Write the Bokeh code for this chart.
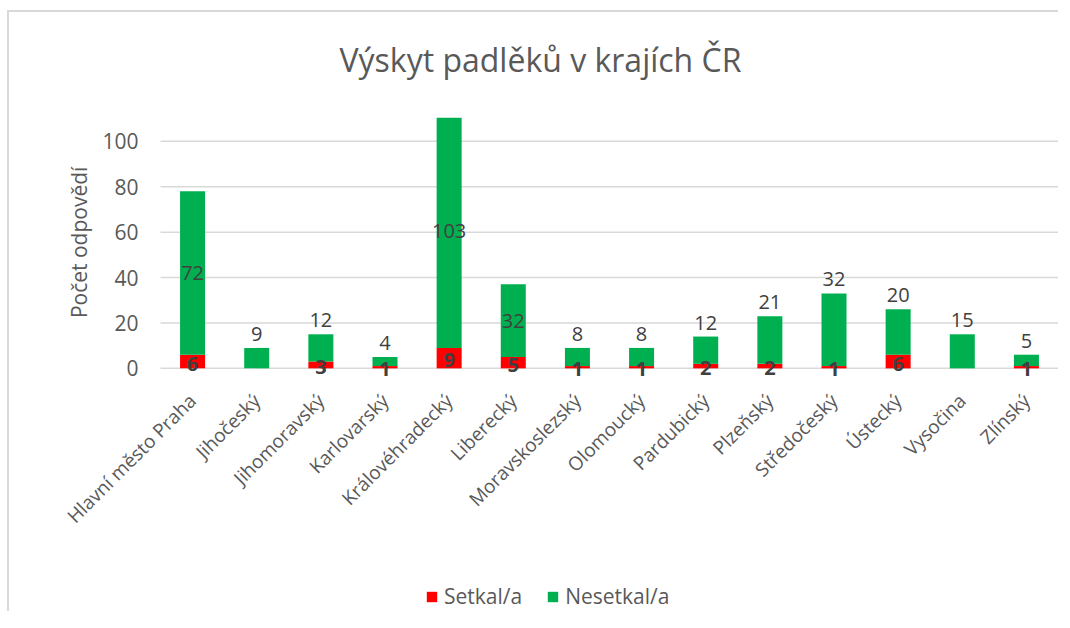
import math
from bokeh.plotting import figure
from bokeh.models import (ColumnDataSource, Range1d, Legend, LegendItem, LabelSet, Label, Title)
from bokeh.core.properties import value
from bokeh.embed import file_html
from bokeh.resources import INLINE

# ---- data ----
regions = ["Hlavní město Praha", "Jihočeský", "Jihomoravský", "Karlovarský",
           "Královéhradecký", "Liberecký", "Moravskoslezský", "Olomoucký",
           "Pardubický", "Plzeňský", "Středočeský", "Ústecký", "Vysočina", "Zlínský"]
setkal = [6, 0, 3, 1, 9, 5, 1, 1, 2, 2, 1, 6, 0, 1]
nesetkal = [72, 9, 12, 4, 103, 32, 8, 8, 12, 21, 32, 20, 15, 5]
series_names = ["Setkal/a", "Nesetkal/a"]
y_ticks = [0, 20, 40, 60, 80, 100]
title_text = "Výskyt padlěků v krajích ČR"
y_title = "Počet odpovědí"
# green labels drawn centred inside the bar (others sit above the bar)
inside_label_regions = ["Hlavní město Praha", "Královéhradecký", "Liberecký"]

TEXT = "#595959"
LBL = "#404040"
RED = "#FF0000"
GREEN = "#00B050"
GRID = "#d9d9d9"
FONT = "Open Sans"

# geometry: the frame holds the plot area plus room for labels and the legend
PX_PER_CAT = 898 / 14
LEFT_PAD_PX = 151
PX_PER_UNIT = 2.27
Y_TOP = 110.5
FRAME_H = 494
Y_BOTTOM = Y_TOP - FRAME_H / PX_PER_UNIT
n_cat = len(regions)
X_START = -0.5 - LEFT_PAD_PX / PX_PER_CAT
X_END = n_cat - 0.5

idx = list(range(n_cat))
src = ColumnDataSource(dict(x=idx, region=regions, setkal=setkal, nesetkal=nesetkal))

p = figure(x_range=Range1d(X_START, X_END), y_range=Range1d(Y_BOTTOM, Y_TOP),
           frame_width=898 + LEFT_PAD_PX, frame_height=FRAME_H,
           min_border_left=0, min_border_right=0, min_border_top=105, min_border_bottom=0,
           output_backend="svg", toolbar_location=None,
           margin=(10, 0, 0, 7),
           styles={"border-left": "2px solid #d9d9d9", "border-top": "2px solid #d9d9d9"})
p.title = None

# spacer between frame and title, then the title itself (further out)
p.add_layout(Title(text=" ", text_font_size="1px", standoff=32), "above")
p.add_layout(Title(text=title_text, text_font=FONT, text_font_size="32px",
                   text_font_style="normal", text_color=TEXT, align="left",
                   offset=179 + LEFT_PAD_PX, standoff=4), "above")

p.xaxis.visible = False
p.yaxis.visible = False
p.xgrid.grid_line_color = None
p.ygrid.grid_line_color = None
p.outline_line_color = None

# horizontal gridlines across the category area
p.segment(x0=[-0.5] * len(y_ticks), x1=[X_END] * len(y_ticks), y0=y_ticks, y1=y_ticks,
          line_color=GRID, line_width=1.5)

rs = p.vbar_stack(["setkal", "nesetkal"], x="x", width=0.39,
                  color=[RED, GREEN], line_color=None, source=src)

# y tick labels and y title
tick_src = ColumnDataSource(dict(x=[-0.5] * len(y_ticks), y=y_ticks, t=[str(v) for v in y_ticks]))
p.add_layout(LabelSet(x="x", y="y", text="t", source=tick_src, text_align="right",
                      text_baseline="middle", text_font=value(FONT), text_font_size=value("21px"),
                      text_color=value(TEXT), x_offset=-22))
p.add_layout(Label(x=-0.5, y=55.5, text=y_title, angle=math.pi / 2, x_offset=-82,
                   text_align="center", text_baseline="middle", text_font=FONT,
                   text_font_size="21px", text_color=TEXT))

# data labels
red_x, red_y, red_t = [], [], []
gin_x, gin_y, gin_t = [], [], []
gab_x, gab_y, gab_t = [], [], []
for i, r, s, n in zip(idx, regions, setkal, nesetkal):
    if s > 0:
        red_x.append(i); red_y.append(s / 2); red_t.append(str(s))
    if r in inside_label_regions:
        gin_x.append(i); gin_y.append(s + n / 2); gin_t.append(str(n))
    else:
        gab_x.append(i); gab_y.append(s + n); gab_t.append(str(n))

red_src = ColumnDataSource(dict(x=red_x, y=red_y, t=red_t))
gin_src = ColumnDataSource(dict(x=gin_x, y=gin_y, t=gin_t))
gab_src = ColumnDataSource(dict(x=gab_x, y=gab_y, t=gab_t))
cat_src = ColumnDataSource(dict(x=idx, y=[0] * n_cat, t=regions))

p.add_layout(LabelSet(x="x", y="y", text="t", source=red_src, text_align="center",
                      text_baseline="middle", text_font=value(FONT), text_font_size=value("20px"),
                      text_font_style=value("bold"), text_color=value(LBL), y_offset=-2))
p.add_layout(LabelSet(x="x", y="y", text="t", source=gin_src, text_align="center",
                      text_baseline="middle", text_font=value(FONT), text_font_size=value("20px"),
                      text_color=value(LBL)))
p.add_layout(LabelSet(x="x", y="y", text="t", source=gab_src, text_align="center",
                      text_baseline="bottom", text_font=value(FONT), text_font_size=value("20px"),
                      text_color=value(LBL), y_offset=7))
# category labels (rotated 45°)
p.add_layout(LabelSet(x="x", y="y", text="t", source=cat_src, text_align="right",
                      text_baseline="middle", angle=math.pi / 4,
                      text_font=value(FONT), text_font_size=value("19px"),
                      text_color=value(TEXT), x_offset=0, y_offset=-29))

legend = Legend(items=[LegendItem(label=series_names[0], renderers=[rs[0]]),
                       LegendItem(label=series_names[1], renderers=[rs[1]])],
                orientation="horizontal", location=(416, 1),
                label_text_font=FONT, label_text_font_size="21px", label_text_color=TEXT,
                glyph_width=13, glyph_height=13, label_standoff=6, spacing=24,
                border_line_color=None, background_fill_alpha=0, padding=4, margin=0)
p.add_layout(legend, "center")

open("out.html", "w").write(file_html(p, INLINE))
